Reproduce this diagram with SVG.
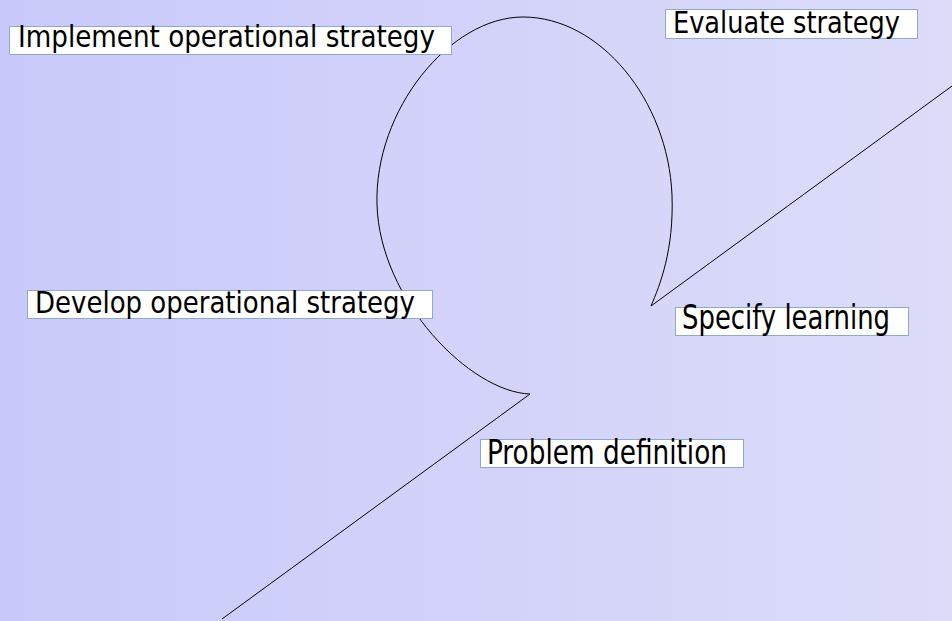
<svg xmlns="http://www.w3.org/2000/svg" width="952" height="621" viewBox="0 0 952 621">
<defs>
<linearGradient id="bg" x1="0" y1="0" x2="1" y2="0">
<stop offset="0" stop-color="#c9c9fb"/>
<stop offset="1" stop-color="#dcdcf9"/>
</linearGradient>
<style>
.box{fill:#ffffff;stroke:#8fa9c9;stroke-width:1}
.lbl{font-family:"DejaVu Sans Condensed","Liberation Sans Narrow","Liberation Sans",sans-serif;fill:#000000}
.con{fill:none;stroke:#000000;stroke-width:1}
</style>
</defs>
<rect x="0" y="0" width="952" height="621" fill="url(#bg)"/>
<g id="connectors">
<path class="con" d="M 222 619 L 530 394 C 470 392 380 300 377 205 C 374 110 450 17 523 17 C 600 17 668 100 672 195 C 674 250 660 285 651 306 L 952 86"/>
</g>
<g id="node-implement">
<rect class="box" x="9.5" y="26.5" width="442" height="28"/>
<text class="lbl" x="18" y="47" font-size="30" textLength="417" lengthAdjust="spacingAndGlyphs">Implement operational strategy</text>
</g>
<g id="node-evaluate">
<rect class="box" x="665.5" y="9.5" width="252" height="29"/>
<text class="lbl" x="673" y="33" font-size="30" textLength="227" lengthAdjust="spacingAndGlyphs">Evaluate strategy</text>
</g>
<g id="node-develop">
<rect class="box" x="27.5" y="290.5" width="405" height="28"/>
<text class="lbl" x="35" y="313" font-size="30" textLength="380" lengthAdjust="spacingAndGlyphs">Develop operational strategy</text>
</g>
<g id="node-specify">
<rect class="box" x="675.5" y="307.5" width="233" height="28"/>
<text class="lbl" x="682" y="329" font-size="34" textLength="208" lengthAdjust="spacingAndGlyphs">Specify learning</text>
</g>
<g id="node-problem">
<rect class="box" x="480.5" y="439.5" width="263" height="28"/>
<text class="lbl" x="487" y="464" font-size="34" textLength="240" lengthAdjust="spacingAndGlyphs">Problem definition</text>
</g>
</svg>
